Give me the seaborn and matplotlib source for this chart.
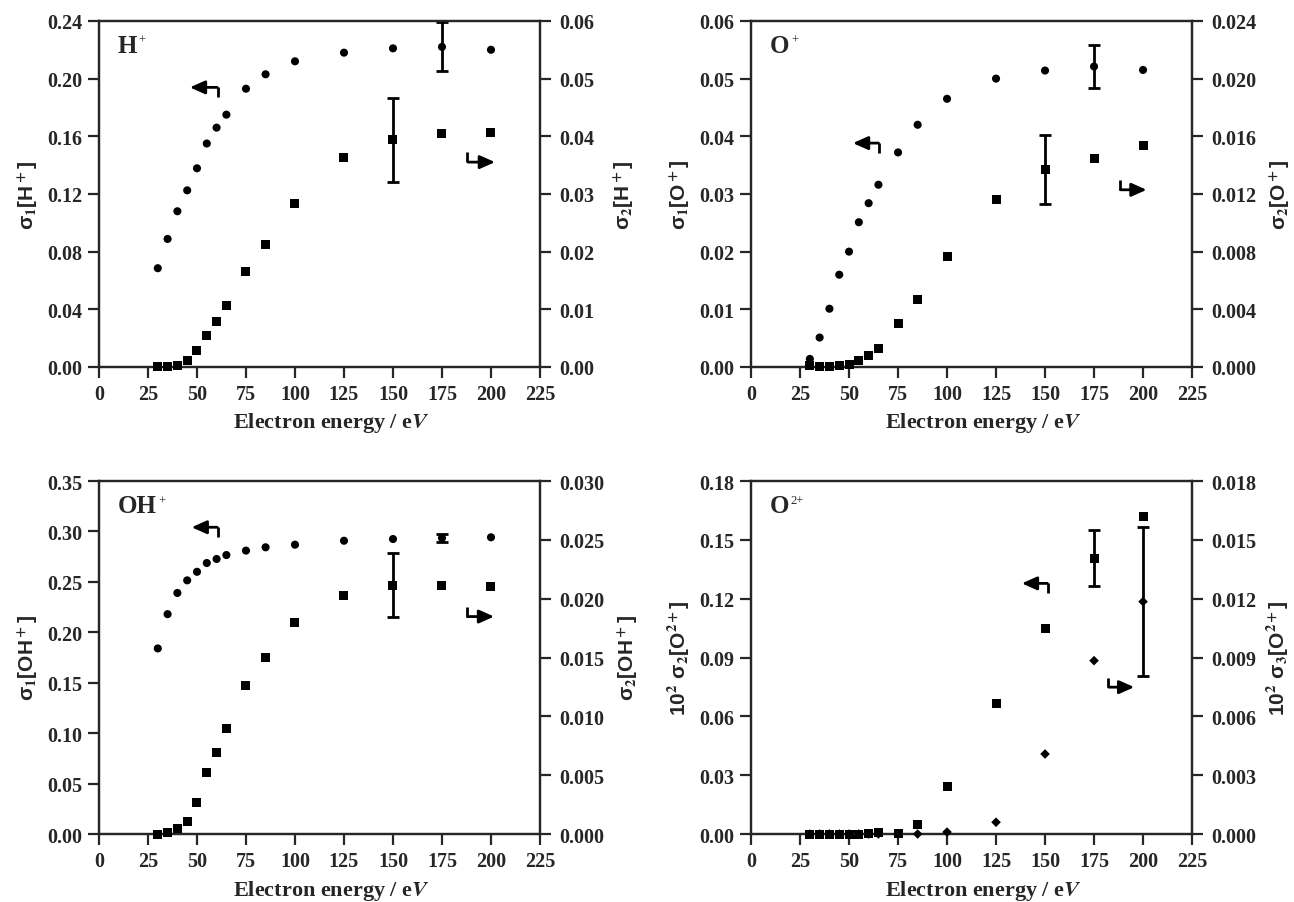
import matplotlib
matplotlib.use('Agg')
import matplotlib.pyplot as plt
import seaborn as sns
from matplotlib.ticker import FormatStrFormatter

sns.set_style('ticks')
plt.rcParams['font.family'] = ['Liberation Serif', 'DejaVu Serif']
plt.rcParams['font.weight'] = 'bold'
plt.rcParams['mathtext.fontset'] = 'stix'
plt.rcParams['axes.linewidth'] = 1.6

# electron energies (eV)
energy = [30, 35, 40, 45, 50, 55, 60, 65, 75, 85, 100, 125, 150, 175, 200]

# H+
h_sigma1 = [0.0685, 0.0888, 0.108, 0.1225, 0.1378, 0.155, 0.166, 0.175, 0.193, 0.203,
            0.212, 0.218, 0.221, 0.222, 0.220]
h_sigma2 = [0.0, 0.0, 0.0003, 0.0011, 0.0028, 0.0054, 0.0078, 0.0106, 0.0165, 0.0213,
            0.0284, 0.0364, 0.0394, 0.0405, 0.0407]
h_err1 = ([175], [0.222], [0.017])
h_err2 = ([150], [0.0394], [0.0073])

# O+
o_sigma1 = [0.0014, 0.0051, 0.0101, 0.016, 0.020, 0.0251, 0.0284, 0.0316, 0.0372, 0.042,
            0.0465, 0.050, 0.0514, 0.0521, 0.0515]
o_sigma2 = [0.0001, 0.0, 0.0, 0.0001, 0.00016, 0.00044, 0.00078, 0.00125, 0.003, 0.00467,
            0.00765, 0.01165, 0.0137, 0.01443, 0.01533]
o_err1 = ([175], [0.0521], [0.0038])
o_err2 = ([150], [0.0137], [0.0024])

# OH+
oh_sigma1 = [0.184, 0.218, 0.239, 0.2515, 0.260, 0.2687, 0.2727, 0.2766, 0.281, 0.2843,
             0.2869, 0.2908, 0.2925, 0.2935, 0.2942]
oh_sigma2 = [0.0, 0.0001, 0.0005, 0.0011, 0.0027, 0.0052, 0.0069, 0.009, 0.0126, 0.01496,
             0.01796, 0.0203, 0.02116, 0.0211, 0.02105]
oh_err1 = ([175], [0.2935], [0.004])
oh_err2 = ([150], [0.02116], [0.0027])

# O2+
o2_sigma2 = [0.0, 0.0, 0.0, 0.0, 0.0, 0.0, 0.0005, 0.0009, 0.0003, 0.0046,
             0.0241, 0.0668, 0.105, 0.1407, 0.1618]
o2_sigma3 = [0.0, 0.0, 0.0, 0.0, 0.0, 0.0, 0.0, 0.0, 0.0, 0.0,
             0.0001, 0.0006, 0.00408, 0.00884, 0.01185]
o2_err2 = ([175], [0.1407], [0.0143])
o2_err3 = ([200], [0.01185], [0.0038])

fig = plt.figure(figsize=(12.94, 9.03), dpi=100)

TICK_FS = 14.5
LAB_FS = 15


def bent_arrow(ax, x_head, x_corner, y, y_hook):
    ax.plot([x_corner, x_corner], [y, y_hook], transform=ax.transAxes, color='k', lw=2,
            solid_capstyle='butt')
    ax.annotate('', xy=(x_head, y), xytext=(x_corner - (0.002 if x_head < x_corner else -0.002), y),
                xycoords='axes fraction',
                arrowprops=dict(arrowstyle='-|>,head_length=0.9,head_width=0.4',
                                color='k', lw=2, shrinkA=0, shrinkB=0))


def draw_panel(pos, ion, charge, y1, y2, lim1, step1, fmt1, lim2, step2, fmt2,
               ylab1, ylab2, err1, err2, m1, m2, s1, s2, larrow, rarrow, rpad=12):
    ax = fig.add_axes(pos)
    ax2 = ax.twinx()
    sns.scatterplot(x=energy, y=y1, ax=ax, marker=m1, s=s1, color='k', edgecolor='none',
                    clip_on=False, zorder=3)
    sns.scatterplot(x=energy, y=y2, ax=ax2, marker=m2, s=s2, color='k', edgecolor='none',
                    clip_on=False, zorder=3)
    ax.errorbar(err1[0], err1[1], yerr=err1[2], fmt='none', ecolor='k', elinewidth=2,
                capsize=4, capthick=2, clip_on=False)
    ax2.errorbar(err2[0], err2[1], yerr=err2[2], fmt='none', ecolor='k', elinewidth=2,
                 capsize=4, capthick=2, clip_on=False)

    ax.set_xlim(0, 225)
    ax.set_xticks(range(0, 226, 25))
    n1 = int(round(lim1 / step1))
    n2 = int(round(lim2 / step2))
    ax.set_ylim(0, lim1)
    ax.set_yticks([i * step1 for i in range(n1 + 1)])
    ax2.set_ylim(0, lim2)
    ax2.set_yticks([i * step2 for i in range(n2 + 1)])
    ax.yaxis.set_major_formatter(FormatStrFormatter(fmt1))
    ax2.yaxis.set_major_formatter(FormatStrFormatter(fmt2))

    for a in (ax, ax2):
        a.tick_params(direction='out', length=8, width=1.6, labelsize=TICK_FS, pad=4)
        for sp in a.spines.values():
            sp.set_visible(True)
            sp.set_linewidth(1.6)
    ax2.tick_params(pad=6)

    ax.set_ylabel(ylab1, fontsize=LAB_FS, family=['Liberation Sans'], fontweight='bold',
                  labelpad=5)
    ax2.set_ylabel(ylab2, fontsize=LAB_FS, family=['Liberation Sans'], fontweight='bold',
                   labelpad=rpad)
    ax.set_xlabel('Electron energy / e$\\mathit{V}$', fontsize=LAB_FS + 1, fontweight='bold')
    ax.xaxis.set_label_coords(0.527, -0.125)

    t = ax.text(0.043, 0.93, ion, transform=ax.transAxes, fontsize=18, fontweight='bold',
                va='center', ha='left')
    ax.annotate(charge, xy=(1, 1), xycoords=t, xytext=(1, 0), textcoords='offset points',
                fontsize=9, fontweight='normal', va='top', ha='left')

    # bent arrows pointing at the matching axis
    bent_arrow(ax, *larrow)
    bent_arrow(ax, *rarrow)
    return ax, ax2


L1, L2, W = 0.0765, 0.5804, 0.3408
TOP = (0.5925, 0.3832)
BOT = (0.0753, 0.3909)

draw_panel([L1, TOP[0], W, TOP[1]], 'H', '+', h_sigma1, h_sigma2,
           0.24, 0.04, '%.2f', 0.06, 0.01, '%.2f',
           'σ$_1$[H$^+$]', 'σ$_2$[H$^+$]', h_err1, h_err2, 'o', 's', 34, 42,
           (0.206, 0.270, 0.808, 0.780), (0.898, 0.835, 0.592, 0.621))

draw_panel([L2, TOP[0], W, TOP[1]], 'O', '+', o_sigma1, o_sigma2,
           0.06, 0.01, '%.2f', 0.024, 0.004, '%.3f',
           'σ$_1$[O$^+$]', 'σ$_2$[O$^+$]', o_err1, o_err2, 'o', 's', 34, 42,
           (0.231, 0.291, 0.647, 0.618), (0.897, 0.836, 0.512, 0.540), rpad=8)

draw_panel([L1, BOT[0], W, BOT[1]], 'OH', '+', oh_sigma1, oh_sigma2,
           0.35, 0.05, '%.2f', 0.030, 0.005, '%.3f',
           'σ$_1$[OH$^+$]', 'σ$_2$[OH$^+$]', oh_err1, oh_err2, 'o', 's', 34, 42,
           (0.210, 0.270, 0.869, 0.840), (0.896, 0.834, 0.616, 0.644), rpad=8)

draw_panel([L2, BOT[0], W, BOT[1]], 'O', '2+', o2_sigma2, o2_sigma3,
           0.18, 0.03, '%.2f', 0.018, 0.003, '%.3f',
           '10$^2$ σ$_2$[O$^{2+}$]', '10$^2$ σ$_3$[O$^{2+}$]', o2_err2, o2_err3, 's', 'D', 42, 24,
           (0.614, 0.674, 0.710, 0.683), (0.869, 0.809, 0.416, 0.441), rpad=6)

fig.savefig('out.png', dpi=100)
